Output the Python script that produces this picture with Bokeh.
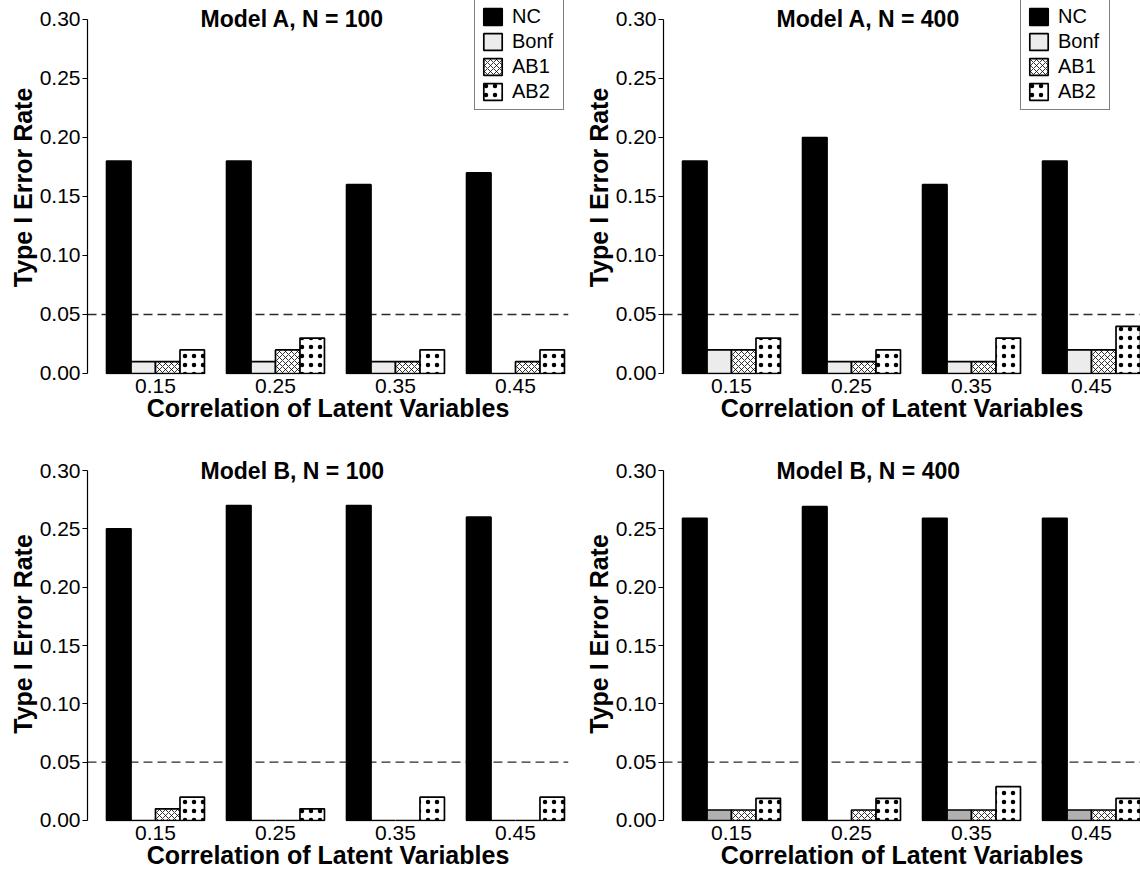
from bokeh.plotting import figure
from bokeh.layouts import gridplot
from bokeh.models import Range1d, FixedTicker, Span, Legend, LegendItem, Label, NumeralTickFormatter
from bokeh.embed import file_html
from bokeh.resources import INLINE

correlations = ["0.15", "0.25", "0.35", "0.45"]
methods = ["NC", "Bonf", "AB1", "AB2"]
y_ticks = [0.0, 0.05, 0.10, 0.15, 0.20, 0.25, 0.30]
nominal_alpha = 0.05

# Model A, N = 100
a100_nc = [0.18, 0.18, 0.16, 0.17]
a100_bonf = [0.01, 0.01, 0.01, 0.00]
a100_ab1 = [0.01, 0.02, 0.01, 0.01]
a100_ab2 = [0.02, 0.03, 0.02, 0.02]

# Model A, N = 400
a400_nc = [0.18, 0.20, 0.16, 0.18]
a400_bonf = [0.02, 0.01, 0.01, 0.02]
a400_ab1 = [0.02, 0.01, 0.01, 0.02]
a400_ab2 = [0.03, 0.02, 0.03, 0.04]

# Model B, N = 100
b100_nc = [0.25, 0.27, 0.27, 0.26]
b100_bonf = [0.00, 0.00, 0.00, 0.00]
b100_ab1 = [0.01, 0.00, 0.00, 0.00]
b100_ab2 = [0.02, 0.01, 0.02, 0.02]

# Model B, N = 400
b400_nc = [0.259, 0.269, 0.259, 0.259]
b400_bonf = [0.009, 0.00, 0.009, 0.009]
b400_ab1 = [0.009, 0.009, 0.009, 0.009]
b400_ab2 = [0.019, 0.019, 0.029, 0.019]

FONT = "Liberation Sans"


def make_panel(title, series, bonf_color, width, height, b_left, b_right, b_bottom,
               x_rng, y_rng, legend_xy=None):
    p = figure(width=width, height=height, output_backend="svg", toolbar_location=None,
               x_range=Range1d(*x_rng), y_range=Range1d(*y_rng),
               min_border_left=b_left, min_border_right=b_right,
               min_border_top=0, min_border_bottom=b_bottom)
    p.outline_line_color = None
    p.grid.visible = False
    p.background_fill_color = "white"
    p.border_fill_color = "white"

    p.add_layout(Span(location=nominal_alpha, dimension="width", line_color="#2a2a2a",
                      line_width=1.4, line_dash="9 5", level="underlay"))

    styles = [
        dict(fill_color="black"),
        dict(fill_color=bonf_color),
        dict(fill_color="white", hatch_pattern="diagonal_cross", hatch_color="black",
             hatch_scale=6, hatch_weight=0.8),
        dict(fill_color="white", hatch_pattern="dot", hatch_color="black",
             hatch_scale=9, hatch_weight=2.6),
    ]
    bar_w = 0.204
    renderers = []
    for k, (vals, st) in enumerate(zip(series, styles)):
        xs = [i + 1 + (k - 1.5) * bar_w for i in range(len(correlations))]
        r = p.vbar(x=xs, top=vals, bottom=0, width=bar_w, line_color="black",
                   line_width=1.7, **st)
        renderers.append(r)

    # y axis
    yax = p.yaxis[0]
    yax.ticker = FixedTicker(ticks=y_ticks)
    yax.formatter = NumeralTickFormatter(format="0.00")
    yax.bounds = (0, 0.30)
    yax.minor_tick_line_color = None
    yax.major_tick_in = 0
    yax.major_tick_out = 5
    yax.axis_line_width = 1.2
    yax.axis_line_color = "black"
    yax.major_tick_line_width = 1.2
    yax.major_tick_line_color = "black"
    yax.major_label_text_font = FONT
    yax.major_label_text_font_size = "21px"
    yax.major_label_text_color = "black"
    yax.major_label_standoff = 2
    yax.axis_label = "Type I Error Rate"
    yax.axis_label_text_font = FONT
    yax.axis_label_text_font_size = "25px"
    yax.axis_label_text_font_style = "bold"
    yax.axis_label_text_color = "black"
    yax.axis_label_standoff = 0

    # x axis
    xax = p.xaxis[0]
    xax.ticker = FixedTicker(ticks=[1, 2, 3, 4])
    xax.major_label_overrides = {i + 1: c for i, c in enumerate(correlations)}
    xax.axis_line_color = None
    xax.major_tick_line_color = None
    xax.minor_tick_line_color = None
    xax.major_label_text_font = FONT
    xax.major_label_text_font_size = "21px"
    xax.major_label_text_color = "black"
    xax.major_label_standoff = -2
    xax.axis_label = "Correlation of Latent Variables"
    xax.axis_label_text_font = FONT
    xax.axis_label_text_font_size = "25px"
    xax.axis_label_text_font_style = "bold"
    xax.axis_label_text_color = "black"
    xax.axis_label_standoff = -2

    p.add_layout(Label(x=2.14, y=0.30, text=title, text_font=FONT, text_font_size="23px",
                       text_font_style="bold", text_align="center", text_baseline="middle",
                       text_color="black"))

    if legend_xy is not None:
        items = [LegendItem(label=m, renderers=[r]) for m, r in zip(methods, renderers)]
        lg = Legend(items=items, location=legend_xy, orientation="vertical",
                    border_line_color="black", border_line_width=1.2,
                    background_fill_color="white", background_fill_alpha=1.0,
                    label_text_font=FONT, label_text_font_size="20px",
                    label_text_color="black",
                    glyph_width=23, glyph_height=21, spacing=2, padding=6, margin=0,
                    label_standoff=8, label_height=21, label_width=45)
        p.add_layout(lg)
    return p


top_h, bot_h = 446, 447
left_w, right_w = 576, 564

p1 = make_panel("Model A, N = 100", [a100_nc, a100_bonf, a100_ab1, a100_ab2], "#ececec",
                left_w, top_h, 87, 8, 72, (0.4333, 4.4417), (-0.00085, 0.3161),
                legend_xy=(387, 264))
p2 = make_panel("Model A, N = 400", [a400_nc, a400_bonf, a400_ab1, a400_ab2], "#ececec",
                right_w, top_h, 87, 0, 72, (0.4333, 4.408), (-0.00085, 0.3161),
                legend_xy=(357, 264))
p3 = make_panel("Model B, N = 100", [b100_nc, b100_bonf, b100_ab1, b100_ab2], "#ececec",
                left_w, bot_h, 87, 8, 72, (0.4333, 4.4417), (-0.00086, 0.3206))
p4 = make_panel("Model B, N = 400", [b400_nc, b400_bonf, b400_ab1, b400_ab2], "#b0b0b0",
                right_w, bot_h, 87, 0, 72, (0.4333, 4.408), (-0.00086, 0.3206))

grid = gridplot([[p1, p2], [p3, p4]], toolbar_location=None)

open("out.html", "w").write(file_html(grid, INLINE))
